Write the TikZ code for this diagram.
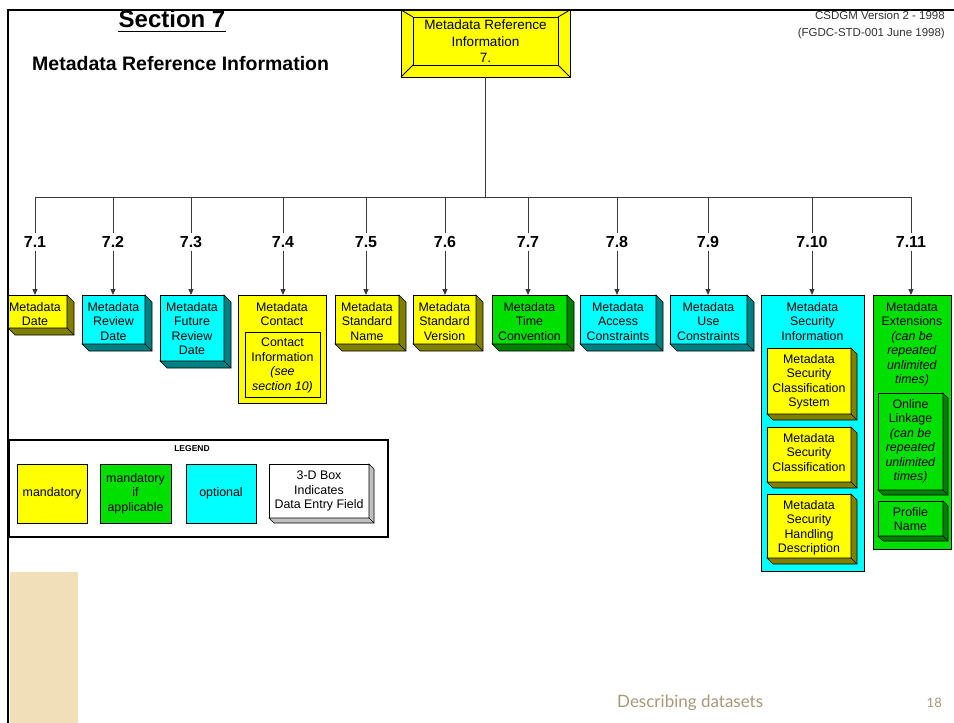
\documentclass[tikz,border=0pt]{standalone}
\usepackage{fontspec}
\setmainfont{Liberation Sans}
\newfontfamily\footfont{Lato}
\usetikzlibrary{arrows.meta,calc}
\definecolor{yel}{HTML}{FFFF00}
\definecolor{yelD}{HTML}{808000}
\definecolor{cya}{HTML}{00FFFF}
\definecolor{cyaD}{HTML}{008080}
\definecolor{gre}{HTML}{00E000}
\definecolor{greD}{HTML}{008000}
\definecolor{whtD}{HTML}{C0C0C0}
\definecolor{beige}{HTML}{F0DFB9}
\definecolor{foot}{HTML}{A79878}
\definecolor{conn}{HTML}{3A3A3A}
\newcommand{\tdbox}[8]{%
  \node[facebox, fill=#6, minimum width={(#4-#2)*1pt}, minimum height={(#5-#3)*1pt}, anchor=north west] (#1) at (#2,#3) {};
  \filldraw[sideline, fill=#7] (#1.north east) -- ++(#8,#8) -- ($(#1.south east)+(#8,#8)$) -- ($(#1.south west)+(#8,#8)$) -- (#1.south west) -- (#1.south east) -- cycle;
  \draw[sideline] (#1.south east) -- ++(#8,#8);}
\newcommand{\flbox}[6]{%
  \node[facebox, fill=#6, minimum width={(#4-#2)*1pt}, minimum height={(#5-#3)*1pt}, anchor=north west] (#1) at (#2,#3) {};}
\begin{document}
\begin{tikzpicture}[x=1pt,y=-1pt,
  facebox/.style={draw=black, line width=0.8pt, inner sep=0pt, outer sep=0pt},
  sideline/.style={draw=black, line width=0.6pt},
  btext/.style={anchor=north, align=center, inner sep=0pt, font=\fontsize{12.4}{14.5}\selectfont},
  lbl/.style={font=\bfseries\fontsize{16}{16}\selectfont, inner sep=3pt, text height=11.5pt, text depth=0pt},
  cline/.style={draw=conn, line width=1pt},
  arr/.style={draw=conn, line width=1pt, -{Triangle[length=6pt,width=5pt]}},
  swtext/.style={align=center, font=\fontsize{12.4}{14.5}\selectfont}]
\useasboundingbox (0,0) rectangle (954,723);
\fill[white] (0,0) rectangle (954,723);
\fill[beige] (10,572) rectangle (78,723);

% title texts
\node[anchor=base, inner sep=0pt, font=\bfseries\fontsize{24}{24}\selectfont] (title) at (172,27) {Section 7};
\draw[line width=1.6pt] ([yshift=-4.5pt]title.base west) -- ([yshift=-4.5pt]title.base east);
\node[anchor=base west, inner sep=0pt, font=\bfseries\fontsize{19.5}{20}\selectfont] (subtitle) at (32,70) {Metadata Reference Information};
\node[anchor=base east, inner sep=0pt, text=black!80, font=\fontsize{11.5}{17}\selectfont] (csdgm) at (945,19) {CSDGM Version 2 - 1998};
\node[anchor=base east, inner sep=0pt, text=black!80, font=\fontsize{11.5}{17}\selectfont] (fgdc) at (945,36) {(FGDC-STD-001 June 1998)};

% root box
\node[facebox, fill=yel, minimum width=169pt, minimum height=67pt, anchor=north west] (root) at (401,10) {};
\coordinate (ri1) at ([shift={(12,7)}]root.north west);
\coordinate (ri2) at ([shift={(-12,7)}]root.north east);
\coordinate (ri3) at ([shift={(-12,-12)}]root.south east);
\coordinate (ri4) at ([shift={(12,-12)}]root.south west);
\draw[line width=0.8pt] (ri1) -- (ri2) -- (ri3) -- (ri4) -- cycle;
\draw[line width=0.8pt] (root.north west) -- (ri1) (root.north east) -- (ri2) (root.south east) -- (ri3) (root.south west) -- (ri4);
\node[btext, font=\fontsize{13.5}{16.5}\selectfont] (rootT) at ([yshift=-10pt]root.north) {Metadata Reference\\Information\\7.};

% bus
\coordinate (bus) at (486,197);
\coordinate (busL) at (35,197);
\coordinate (busR) at (911,197);
\draw[cline] (root.south) -- (root.south |- bus);
\draw[cline] (busL) -- (busR);

% labels
\node[lbl] (L1) at (35,242) {7.1};
\node[lbl] (L2) at (113,242) {7.2};
\node[lbl] (L3) at (191,242) {7.3};
\node[lbl] (L4) at (283,242) {7.4};
\node[lbl] (L5) at (366,242) {7.5};
\node[lbl] (L6) at (445,242) {7.6};
\node[lbl] (L7) at (528,242) {7.7};
\node[lbl] (L8) at (617,242) {7.8};
\node[lbl] (L9) at (708,242) {7.9};
\node[lbl] (L10) at (812,242) {7.10};
\node[lbl] (L11) at (911,242) {7.11};

% boxes
\tdbox{B1}{8}{295}{67}{328}{yel}{yelD}{7}
\node[btext] (B1t) at (35,302) {Metadata\\Date};
\tdbox{B2}{82}{295}{145}{344}{cya}{cyaD}{7}
\node[btext] (B2t) at ([yshift=-7pt]B2.north) {Metadata\\Review\\Date};
\tdbox{B3}{160}{295}{224}{361}{cya}{cyaD}{7}
\node[btext] (B3t) at ([yshift=-7pt]B3.north) {Metadata\\Future\\Review\\Date};
\flbox{B4}{238}{295}{326}{403}{yel}
\node[btext] (B4t) at ([yshift=-7pt]B4.north) {Metadata\\Contact};
\flbox{C4}{245}{332}{320}{397}{yel}
\node[btext] (C4t) at ([yshift=-6pt]C4.north) {Contact\\Information\\\textit{(see}\\\textit{section 10)}};
\tdbox{B5}{335}{295}{399}{344}{yel}{yelD}{7}
\node[btext] (B5t) at ([yshift=-7pt]B5.north) {Metadata\\Standard\\Name};
\tdbox{B6}{413}{295}{476}{344}{yel}{yelD}{7}
\node[btext] (B6t) at ([yshift=-7pt]B6.north) {Metadata\\Standard\\Version};
\tdbox{B7}{492}{295}{567}{344}{gre}{greD}{7}
\node[btext] (B7t) at ([yshift=-7pt]B7.north) {Metadata\\Time\\Convention};
\tdbox{B8}{580}{295}{656}{344}{cya}{cyaD}{7}
\node[btext] (B8t) at ([yshift=-7pt]B8.north) {Metadata\\Access\\Constraints};
\tdbox{B9}{670}{295}{747}{344}{cya}{cyaD}{7}
\node[btext] (B9t) at ([yshift=-7pt]B9.north) {Metadata\\Use\\Constraints};
\flbox{B10}{761}{295}{864}{571}{cya}
\node[btext] (B10t) at ([yshift=-7pt]B10.north) {Metadata\\Security\\Information};
\tdbox{S1}{767}{348}{851}{414}{yel}{yelD}{6}
\node[btext] (S1t) at ([yshift=-6pt]S1.north) {Metadata\\Security\\Classification\\System};
\tdbox{S2}{767}{427}{851}{482}{yel}{yelD}{6}
\node[btext] (S2t) at ([yshift=-6pt]S2.north) {Metadata\\Security\\Classification};
\tdbox{S3}{767}{494}{851}{558}{yel}{yelD}{6}
\node[btext] (S3t) at ([yshift=-6pt]S3.north) {Metadata\\Security\\Handling\\Description};
\flbox{B11}{873}{295}{951}{549}{gre}
\node[btext] (B11t) at ([yshift=-7pt]B11.north) {Metadata\\Extensions\\\textit{(can be}\\\textit{repeated}\\\textit{unlimited}\\\textit{times)}};
\tdbox{O1}{878}{393}{943}{490}{gre}{greD}{5}
\node[btext] (O1t) at ([yshift=-6pt]O1.north) {Online\\Linkage\\\textit{(can be}\\\textit{repeated}\\\textit{unlimited}\\\textit{times)}};
\tdbox{O2}{878}{501}{943}{536}{gre}{greD}{5}
\node[btext] (O2t) at ([yshift=-6pt]O2.north) {Profile\\Name};

% drops
\foreach \i in {1,...,11} {
  \draw[cline] (L\i.north |- bus) -- (L\i.north);
  \draw[arr] (L\i.south) -- (L\i.south |- B\i.north);
}

% legend
\node[draw=black, line width=2pt, inner sep=0pt, minimum width=379pt, minimum height=97pt, anchor=north west] (legend) at (8,439) {};
\node[inner sep=0pt, font=\bfseries\fontsize{8.5}{9}\selectfont] (legT) at (192,449) {LEGEND};
\node[facebox, fill=yel, minimum width=70pt, minimum height=59pt, anchor=north west, swtext] (LG1) at (17,464) {mandatory};
\node[facebox, fill=gre, minimum width=71pt, minimum height=59pt, anchor=north west, swtext] (LG2) at (100,464) {mandatory\\if\\applicable};
\node[facebox, fill=cya, minimum width=70pt, minimum height=59pt, anchor=north west, swtext] (LG3) at (186,464) {optional};
\tdbox{LG4}{269}{464}{369}{518}{white}{whtD}{5}
\node[swtext] (LG4t) at (LG4.center) {3-D Box\\Indicates\\Data Entry Field};

% frame
\draw[line width=2pt] (8,723) -- (8,10);
\draw[line width=2.5pt] (7,10) -- (954,10);

% footer
\node[anchor=base west, inner sep=0pt, text=foot, font=\footfont\fontsize{17}{17}\selectfont] (foot1) at (617,707) {Describing datasets};
\node[anchor=base east, inner sep=0pt, text=foot, font=\footfont\fontsize{13}{13}\selectfont] (foot2) at (942,707) {18};
\end{tikzpicture}
\end{document}
